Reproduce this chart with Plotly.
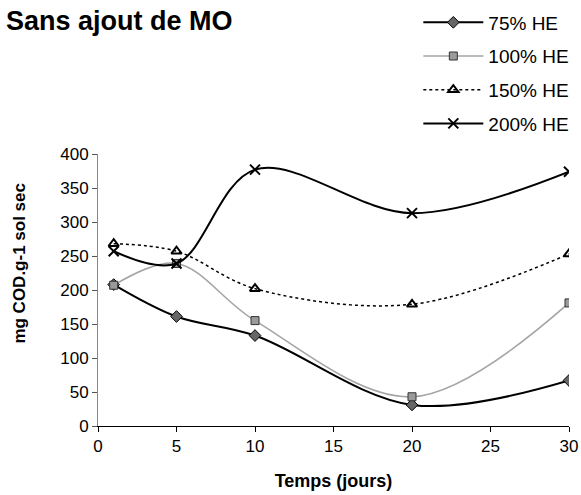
import plotly.graph_objects as go

jours = [1, 5, 10, 20, 30]
he75 = [208, 161, 133, 31, 67]
he100 = [207, 239, 155, 43, 181]
he150 = [268, 257, 202, 179, 253]
he200 = [257, 239, 377, 313, 374]
noms = ["75% HE", "100% HE", "150% HE", "200% HE"]

FONT = "Liberation Sans, Arial, sans-serif"

fig = go.Figure()
fig.add_trace(go.Scatter(
    x=jours, y=he75, name=noms[0], mode="lines+markers", legendgroup="a",
    line=dict(color="black", width=2, shape="spline"),
    marker=dict(symbol="diamond", size=9, color="#666666", line=dict(color="black", width=1))))
fig.add_trace(go.Scatter(
    x=jours, y=he100, name=noms[1], mode="lines+markers", legendgroup="b",
    line=dict(color="#a5a5a5", width=1.6, shape="spline"),
    marker=dict(symbol="square", size=8, color="#9a9a9a", line=dict(color="#333333", width=1))))
fig.add_trace(go.Scatter(
    x=jours, y=he150, name=noms[2], mode="lines+markers", legendgroup="c",
    line=dict(color="black", width=1.5, dash="dot", shape="spline"),
    marker=dict(symbol="triangle-up-open", size=9, color="black", line=dict(color="black", width=2))))
fig.add_trace(go.Scatter(
    x=jours, y=he200, name=noms[3], mode="lines+markers", legendgroup="d",
    line=dict(color="black", width=2, shape="spline"),
    marker=dict(symbol="x-thin-open", size=10, color="black", line=dict(color="black", width=2))))

fig.update_layout(
    width=581, height=495,
    margin=dict(l=98, r=12, t=154, b=69, autoexpand=False),
    plot_bgcolor="white", paper_bgcolor="white",
    font=dict(family=FONT, size=17, color="black"),
    showlegend=True,
    legend=dict(xref="container", yref="container", x=0.72, y=0.993,
                xanchor="left", yanchor="top",
                font=dict(size=19), itemwidth=60, tracegroupgap=6,
                bgcolor="rgba(0,0,0,0)"),
    annotations=[
        dict(text="<b>Sans ajout de MO</b>", xref="paper", yref="paper",
             x=-0.2, y=1.49, xanchor="left", yanchor="middle", showarrow=False,
             font=dict(size=27, family=FONT)),
        dict(text="<b>mg COD.g-1 sol sec</b>", xref="paper", yref="paper",
             x=-0.166, y=0.60, textangle=-90, xanchor="center", yanchor="middle",
             showarrow=False, font=dict(size=17, family=FONT)),
    ],
)
fig.update_xaxes(range=[0, 30], tickvals=[0, 5, 10, 15, 20, 25, 30],
                 showline=True, linecolor="black", linewidth=1,
                 ticks="outside", ticklen=5, tickcolor="black",
                 showgrid=False, zeroline=False,
                 title=dict(text="<b>Temps (jours)</b>", font=dict(size=18), standoff=18))
fig.update_yaxes(range=[0, 400], tickvals=[0, 50, 100, 150, 200, 250, 300, 350, 400],
                 showline=True, linecolor="#888888", linewidth=1,
                 ticks="outside", ticklen=5, tickcolor="#555555",
                 showgrid=False, zeroline=False)

fig.write_html("out.html", config={"displayModeBar": False},
               post_script="document.body.style.margin='0';document.body.style.overflow='hidden';")
